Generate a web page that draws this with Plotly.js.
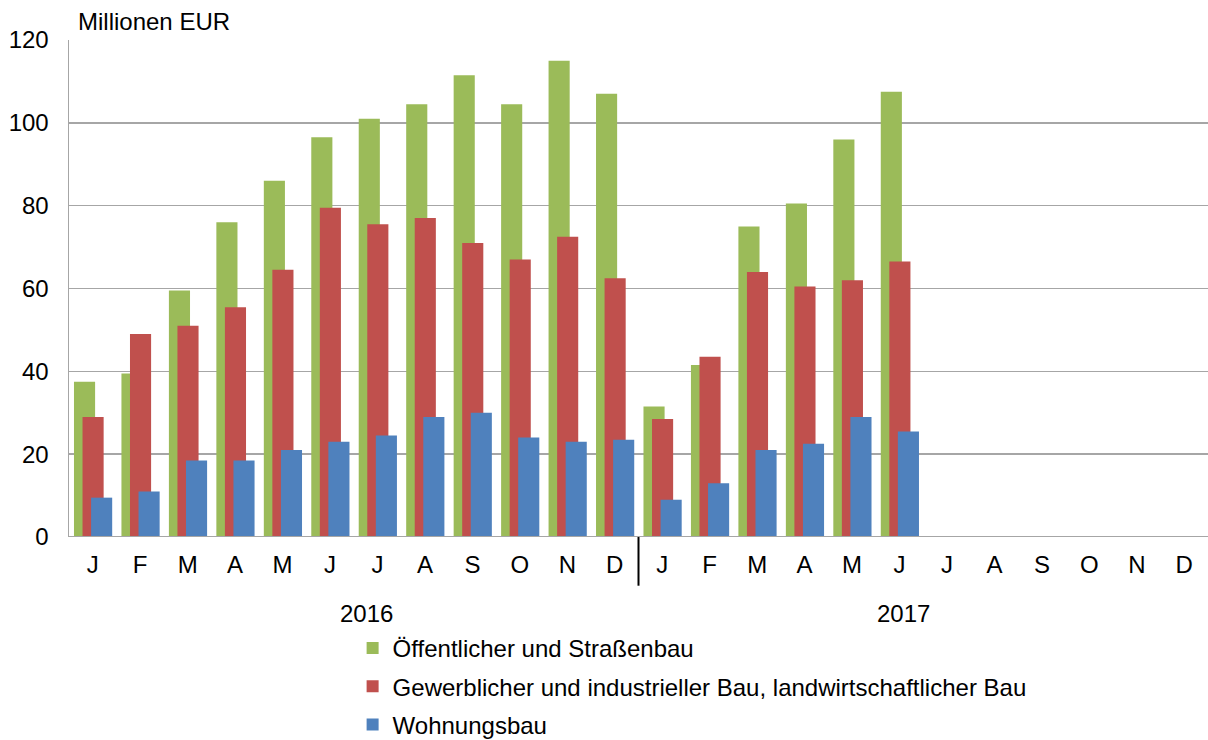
<!DOCTYPE html>
<html><head><meta charset="utf-8">
<script src="https://cdn.plot.ly/plotly-3.0.1.min.js"></script>
<style>body{margin:0;padding:0;background:#fff}#chart{width:1208px;height:740px}</style>
</head><body><div id="chart"></div>
<script>
const months = ["J","F","M","A","M","J","J","A","S","O","N","D","J","F","M","A","M","J","J","A","S","O","N","D"];
const years = ["2016","2017"];
const seriesNames = ["Öffentlicher und Straßenbau","Gewerblicher und industrieller Bau, landwirtschaftlicher Bau","Wohnungsbau"];
const oeffentlich = [37.5,39.5,59.5,76,86,96.5,101,104.5,111.5,104.5,115,107,31.5,41.5,75,80.5,96,107.5,null,null,null,null,null,null];
const gewerblich = [29,49,51,55.5,64.5,79.5,75.5,77,71,67,72.5,62.5,28.5,43.5,64,60.5,62,66.5,null,null,null,null,null,null];
const wohnungsbau = [9.5,11,18.5,18.5,21,23,24.5,29,30,24,23,23.5,9,13,21,22.5,29,25.5,null,null,null,null,null,null];

const xs = months.map((m,i)=>i);
const colors = ["#9BBB59","#C0504D","#4F81BD"];
const offsets = [-0.395,-0.215,-0.035];
const data = [oeffentlich,gewerblich,wohnungsbau].map((v,k)=>({
  type:"bar", x:xs, y:v, name:seriesNames[k],
  marker:{color:colors[k], line:{width:0}},
  width:0.445, offset:offsets[k], legendgroup:"g"+k, hoverinfo:"y"
}));

const layout = {
  width:1208, height:740,
  margin:{l:69,r:0,t:40,b:203, autoexpand:false},
  paper_bgcolor:"#fff", plot_bgcolor:"#fff",
  barmode:"overlay",
  font:{family:"Liberation Sans, Arial, sans-serif", size:24, color:"#000"},
  showlegend:true,
  legend:{x:0.249,xanchor:"left",y:-0.179,yanchor:"top",orientation:"v",
    traceorder:"grouped", tracegroupgap:4, font:{size:24}, bgcolor:"rgba(0,0,0,0)",
    itemwidth:30},
  xaxis:{range:[-0.5,23.5], tickmode:"array", tickvals:xs, ticktext:months,
    showgrid:false, zeroline:false, showline:false, ticks:"", ticklabelstandoff:11,
    fixedrange:true},
  yaxis:{range:[0,120], dtick:20, showgrid:true, gridcolor:"#a6a6a6", gridwidth:1.5,
    zeroline:false, showline:true, linecolor:"#a6a6a6", linewidth:1.5, ticks:"",
    ticklabelstandoff:14, fixedrange:true},
  shapes:[
    {type:"line", xref:"paper", yref:"y", x0:0, x1:1, y0:0, y1:0, line:{color:"#a6a6a6", width:2}},
    {type:"line", xref:"x", yref:"paper", x0:11.5, x1:11.5, y0:0, y1:-0.098, line:{color:"#000", width:2}}
  ],
  annotations:[
    {text:"Millionen EUR", xref:"paper", yref:"paper", x:0.006, y:1.0, xanchor:"left", yanchor:"bottom", yshift:3, showarrow:false, font:{size:24}},
    {text:years[0], xref:"x", yref:"paper", x:5.76, y:-0.153, yanchor:"middle", xanchor:"center", showarrow:false, font:{size:24}},
    {text:years[1], xref:"x", yref:"paper", x:17.09, y:-0.153, yanchor:"middle", xanchor:"center", showarrow:false, font:{size:24}}
  ]
};
Plotly.newPlot("chart", data, layout, {displayModeBar:false, staticPlot:true});
</script></body></html>
